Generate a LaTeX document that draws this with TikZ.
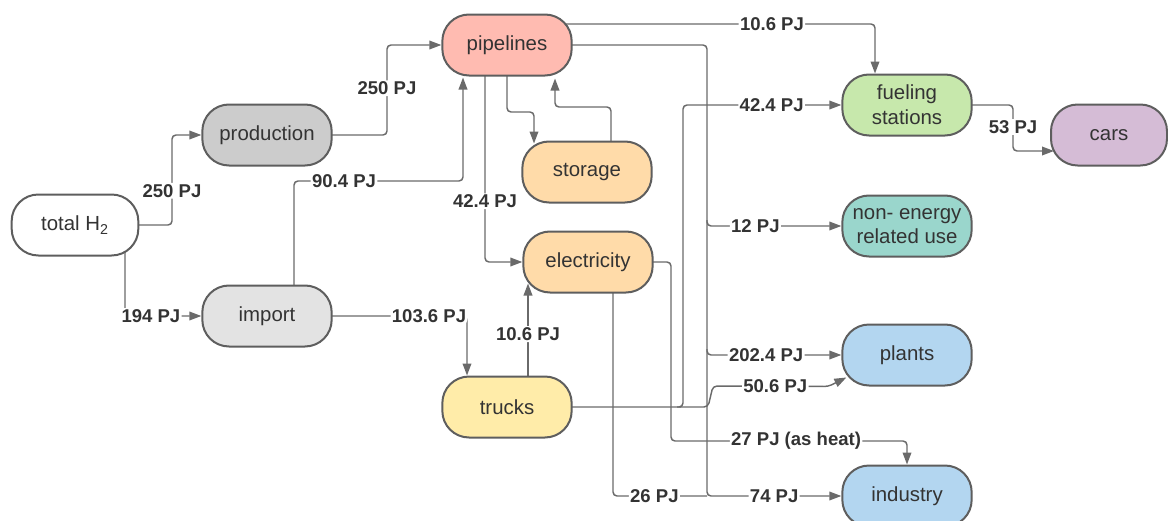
\documentclass[tikz,border=0pt]{standalone}
\usepackage{fontspec}
\setmainfont{Liberation Sans}
\usetikzlibrary{arrows.meta,calc,backgrounds}
\definecolor{rim}{HTML}{5E5E5E}
\definecolor{wire}{HTML}{6A6A6A}
\definecolor{ink}{HTML}{333333}
\definecolor{cprod}{HTML}{CCCCCC}
\definecolor{cimp}{HTML}{E3E3E3}
\definecolor{cpipe}{HTML}{FFBBB1}
\definecolor{cstor}{HTML}{FFDBA9}
\definecolor{ctruck}{HTML}{FFECA9}
\definecolor{cfuel}{HTML}{C7E8AC}
\definecolor{ccars}{HTML}{D5BCD6}
\definecolor{cnon}{HTML}{9AD6CC}
\definecolor{cuse}{HTML}{B3D6F0}
\begin{document}
\begin{tikzpicture}[x=0.75pt,y=-0.75pt,
    box/.style={draw=rim,line width=1.5pt,rounded corners=20pt,minimum width=97pt,
      minimum height=45.75pt,inner sep=0pt,align=center,text=ink,
      font=\fontsize{15.3}{18.5}\selectfont},
    flow/.style={draw=wire,line width=1.1pt,rounded corners=3pt,
      -{Triangle[length=9pt,width=6.5pt]}},
    link/.style={draw=wire,line width=1.1pt,rounded corners=3pt},
    lbl/.style={fill=white,inner sep=1pt,text=ink,
      font=\fontsize{13.9}{16}\selectfont\bfseries}]
    \useasboundingbox (0,0) rectangle (1168,521);
    \node[box,fill=white,minimum width=95pt] (tot) at (75,225) {total H\textsubscript{2}};
    \node[box,fill=cprod] (prod) at (267,135) {production};
    \node[box,fill=cimp] (imp) at (267,316) {import};
    \node[box,fill=cpipe] (pipe) at (507,45) {pipelines};
    \node[box,fill=cstor] (stor) at (587,172) {storage};
    \node[box,fill=cstor] (elec) at (588,262) {electricity};
    \node[box,fill=ctruck] (truck) at (507,407) {trucks};
    \node[box,fill=cfuel] (fuel) at (907,105) {fueling\\stations};
    \node[box,fill=ccars,minimum width=87pt] (cars) at (1109,135) {cars};
    \node[box,fill=cnon] (noner) at (907,226) {non- energy\\related use};
    \node[box,fill=cuse] (plant) at (907,355) {plants};
    \node[box,fill=cuse] (ind) at (907,496) {industry};
    \coordinate (trunk) at ($(pipe.center)+(200,0)$);
    \coordinate (fork) at ($(truck.center)+(170,0)$);
    \begin{pgfonlayer}{background}
    \draw[flow] (tot.center) -- ++(97,0) |- node[lbl,pos=0.19] (l1) {250 PJ} (prod.west);
    \draw[flow] ($(tot.center)+(50,0)$) |- node[lbl,pos=0.67] (l2) {194 PJ} (imp.west);
    \draw[flow] (prod.center) -- ++(120,0) |- node[lbl,pos=0.26] (l3) {250 PJ} (pipe.west);
    \draw[flow] ($(imp.center)+(27,0)$) -- ++(0,-135) -| node[lbl,pos=0.148] (l4) {90.4 PJ} ($(pipe.south)+(-44,1)$);
    \draw[flow] (imp.center) -| node[lbl,pos=0.405] (l5) {103.6 PJ} ($(truck.north)+(-40,0)$);
    \draw[flow] (pipe.center) -- ++(0,67) -| ($(stor.north)+(-53,3)$);
    \draw[flow] ($(stor.center)+(24,0)$) -- ++(0,-65) -| ($(pipe.south)+(48,2)$);
    \draw[flow] ($(pipe.center)+(-22,0)$) |- node[lbl,pos=0.36] (l6) {42.4 PJ} (elec.west);
    \draw[flow] ($(truck.center)+(21,0)$) -- node[lbl,pos=0.59] (l7) {10.6 PJ} ($(elec.south)+(-60,-10)$);
    \draw[flow] ($(pipe.center)+(0,-21)$) -| node[lbl,pos=0.36] (l8) {10.6 PJ} ($(fuel.north)+(-32,0)$);
    % trunk from pipelines to the users
    \draw[flow] (pipe.center) -- (trunk) |- node[lbl,pos=0.75] (l11) {74 PJ} (ind.west);
    \draw[flow] ($(trunk |- noner.west)+(0,-6)$) |- node[lbl,pos=0.68] (l9) {12 PJ} (noner.west);
    \draw[flow] ($(trunk |- plant.west)+(0,-6)$) |- node[lbl,pos=0.72] (l10) {202.4 PJ} (plant.west);
    \draw[link] ($(elec.center)+(25,0)$) |- node[lbl,pos=0.72] (l12) {26 PJ} (trunk |- ind.west);
    % trucks to fueling stations and plants
    \draw[flow] (truck.center) -- (fork) -- ++(6,0) |- node[lbl,pos=0.78] (l13) {42.4 PJ} (fuel.west);
    \draw[flow] (fork) -- ++(31,0) -- ++(5,-21)
      -- node[lbl,pos=0.54] (l14) {50.6 PJ} ($(plant.south west)+(-13,0)$) -- ($(plant.south west)+(5,-9)$);
    \draw[flow] (elec.center) -- ++(83,0) -- ++(0,179) -| node[lbl,pos=0.265] (l15) {27 PJ (as heat)} (ind.north);
    \draw[flow] (fuel.center) -- ++(106,0) |- node[lbl,pos=0.24] (l16) {53 PJ} ($(cars.west)+(4,16)$);
    \end{pgfonlayer}
\end{tikzpicture}
\end{document}
